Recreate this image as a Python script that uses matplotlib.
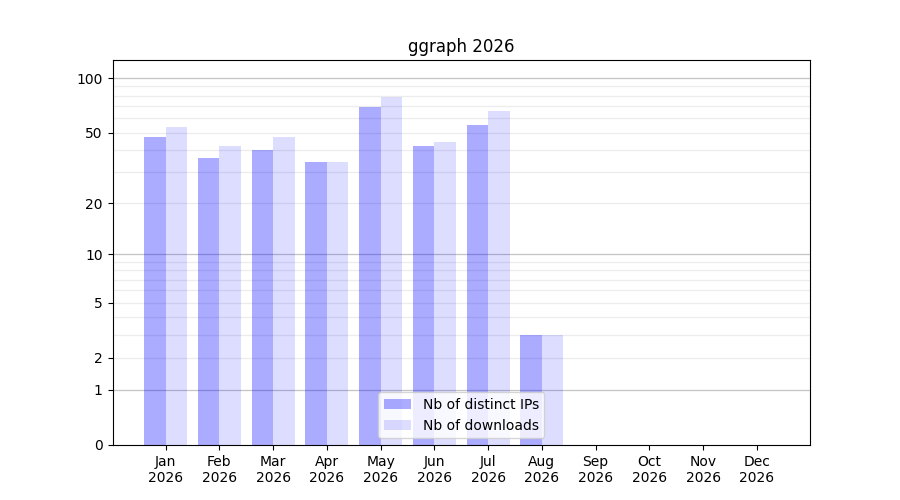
import matplotlib
matplotlib.use("Agg")
import matplotlib.pyplot as plt
import numpy as np

months = ["Jan", "Feb", "Mar", "Apr", "May", "Jun", "Jul", "Aug", "Sep", "Oct", "Nov", "Dec"]
year = "2026"
distinct_ips = [47, 36, 40, 34, 69, 42, 55, 3, 0, 0, 0, 0]
downloads = [54, 42, 47, 34, 79, 44, 66, 3, 0, 0, 0, 0]
y_ticks = [0, 1, 2, 5, 10, 20, 50, 100]

fig, ax = plt.subplots(figsize=(9, 5), dpi=100)
ax.set_yscale("function", functions=(lambda v: np.log10(1 + np.clip(v, 0, None)),
                                     lambda v: 10 ** v - 1))

# grid lines: strong at decades, faint in between
for d in [1, 10, 100]:
    ax.axhline(d, color="#c4c4c4", lw=0.9, zorder=0)
    for k in range(2, 10):
        if d * k <= 100:
            ax.axhline(d * k, color="#ececec", lw=0.9, zorder=0)

x = np.arange(len(months))
ax.bar(x - 0.2, distinct_ips, width=0.4, color="blue", alpha=0.33, label="Nb of distinct IPs", zorder=2)
ax.bar(x + 0.2, downloads, width=0.4, color="blue", alpha=0.135, label="Nb of downloads", zorder=2)

ax.set_xticks(x)
ax.set_xticklabels([m + "\n" + year for m in months])
ax.set_yticks(y_ticks)
ax.set_yticklabels([str(t) for t in y_ticks])
ax.minorticks_off()
ax.set_ylim(0, 126)
ax.set_title("ggraph " + year)
ax.legend(loc="lower center")

fig.savefig("out.png")
